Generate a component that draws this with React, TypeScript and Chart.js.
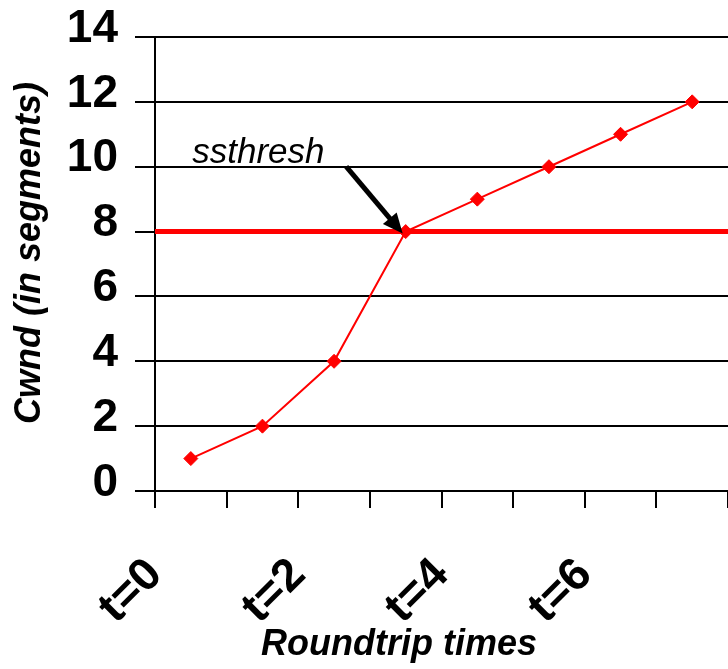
import { useEffect, useRef } from "react";
import { Chart, registerables } from "chart.js";

Chart.register(...registerables);

// Congestion window per round trip (points sit mid-interval)
const roundtrips = [0, 1, 2, 3, 4, 5, 6, 7];
const cwnd = [1, 2, 4, 8, 9, 10, 11, 12];
const ssthresh = 8;
const xTickLabels = ["t=0", "", "t=2", "", "t=4", "", "t=6", "", ""];
const yMax = 14;
const yStep = 2;

const RED = "#ff0000";
const TICK_FONT = { family: "'Liberation Sans', Arial, sans-serif", size: 46, weight: "bold" as const };

const annotations = {
  id: "annotations",
  afterDatasetsDraw(chart: any) {
    const { ctx, chartArea, scales } = chart;
    const x = scales.x;
    const y = scales.y;
    ctx.save();

    // ssthresh label
    ctx.fillStyle = "#000";
    ctx.font = "italic 35px 'Liberation Sans', Arial, sans-serif";
    ctx.textAlign = "left";
    ctx.textBaseline = "alphabetic";
    ctx.fillText("ssthresh", x.getPixelForValue(0.52), y.getPixelForValue(10) - 4);

    // arrow from the label down to the crossing point
    const x0 = x.getPixelForValue(2.67);
    const y0 = y.getPixelForValue(10);
    const x1 = x.getPixelForValue(3.5) - 3;
    const y1 = y.getPixelForValue(ssthresh) + 2;
    const ang = Math.atan2(y1 - y0, x1 - x0);
    const headLen = 20;
    const headHalf = 9;
    const bx = x1 - headLen * Math.cos(ang);
    const by = y1 - headLen * Math.sin(ang);
    ctx.strokeStyle = "#000";
    ctx.lineWidth = 5;
    ctx.beginPath();
    ctx.moveTo(x0, y0);
    ctx.lineTo(bx + 2 * Math.cos(ang), by + 2 * Math.sin(ang));
    ctx.stroke();
    ctx.beginPath();
    ctx.moveTo(x1, y1);
    ctx.lineTo(bx - headHalf * Math.sin(ang), by + headHalf * Math.cos(ang));
    ctx.lineTo(bx + headHalf * Math.sin(ang), by - headHalf * Math.cos(ang));
    ctx.closePath();
    ctx.fillStyle = "#000";
    ctx.fill();

    // axis titles
    ctx.font = "italic bold 36px 'Liberation Sans', Arial, sans-serif";
    ctx.textAlign = "center";
    ctx.textBaseline = "middle";
    ctx.fillText("Roundtrip times", chartArea.left + 244, 645);

    ctx.translate(30, chartArea.top + 216);
    ctx.rotate(-Math.PI / 2);
    ctx.fillText("Cwnd (in segments)", 0, 0);

    ctx.restore();
  },
};

export default function App() {
  const canvasRef = useRef<HTMLCanvasElement | null>(null);

  useEffect(() => {
    const canvas = canvasRef.current;
    if (!canvas) return;
    const chart = new Chart(canvas, {
      type: "line",
      data: {
        datasets: [
          {
            label: "Cwnd",
            data: roundtrips.map((r, i) => ({ x: r + 0.5, y: cwnd[i] })),
            borderColor: RED,
            backgroundColor: RED,
            borderWidth: 2,
            pointStyle: "rectRot",
            pointRadius: 7,
            pointBackgroundColor: RED,
            pointBorderColor: RED,
            pointBorderWidth: 1,
            tension: 0,
            order: 0,
          },
          {
            label: "ssthresh",
            data: [
              { x: 0, y: ssthresh },
              { x: xTickLabels.length - 1, y: ssthresh },
            ],
            borderColor: RED,
            borderWidth: 5,
            pointRadius: 0,
            order: 1,
          },
        ],
      },
      options: {
        responsive: false,
        animation: false,
        layout: { padding: { top: 37, right: 5, left: 0, bottom: 0 } },
        plugins: { legend: { display: false }, tooltip: { enabled: false } },
        scales: {
          x: {
            type: "linear",
            min: 0,
            max: xTickLabels.length - 1,
            afterFit: (axis: any) => {
              axis.height = 178;
              axis.paddingLeft = 0;
              axis.paddingRight = 0;
              axis.paddingTop = 0;
              axis.paddingBottom = 0;
            },
            ticks: {
              stepSize: 1,
              autoSkip: false,
              maxRotation: 45,
              minRotation: 45,
              padding: 40,
              color: "#000",
              font: TICK_FONT,
              callback: (_v: any, i: number) => xTickLabels[i] ?? "",
            },
            grid: {
              drawOnChartArea: false,
              drawTicks: true,
              tickLength: 17,
              color: "#000",
              lineWidth: 2,
            },
            border: { display: true, color: "#000", width: 2 },
          },
          y: {
            min: 0,
            max: yMax,
            afterFit: (axis: any) => {
              axis.width = 155;
              axis.paddingLeft = 0;
              axis.paddingRight = 0;
              axis.paddingTop = 0;
              axis.paddingBottom = 0;
            },
            ticks: {
              stepSize: yStep,
              padding: 17,
              labelOffset: -8,
              color: "#000",
              font: TICK_FONT,
            },
            grid: {
              color: "#000",
              lineWidth: 2,
              tickLength: 20,
            },
            border: { display: true, color: "#000", width: 2 },
          },
        },
      },
      plugins: [annotations],
    });
    return () => chart.destroy();
  }, []);

  return (
    <div
      style={{
        position: "fixed",
        left: 0,
        top: 0,
        width: 728,
        height: 669,
        overflow: "hidden",
        background: "#fff",
      }}
    >
      <canvas ref={canvasRef} width={736} height={669} style={{ display: "block" }} />
    </div>
  );
}
